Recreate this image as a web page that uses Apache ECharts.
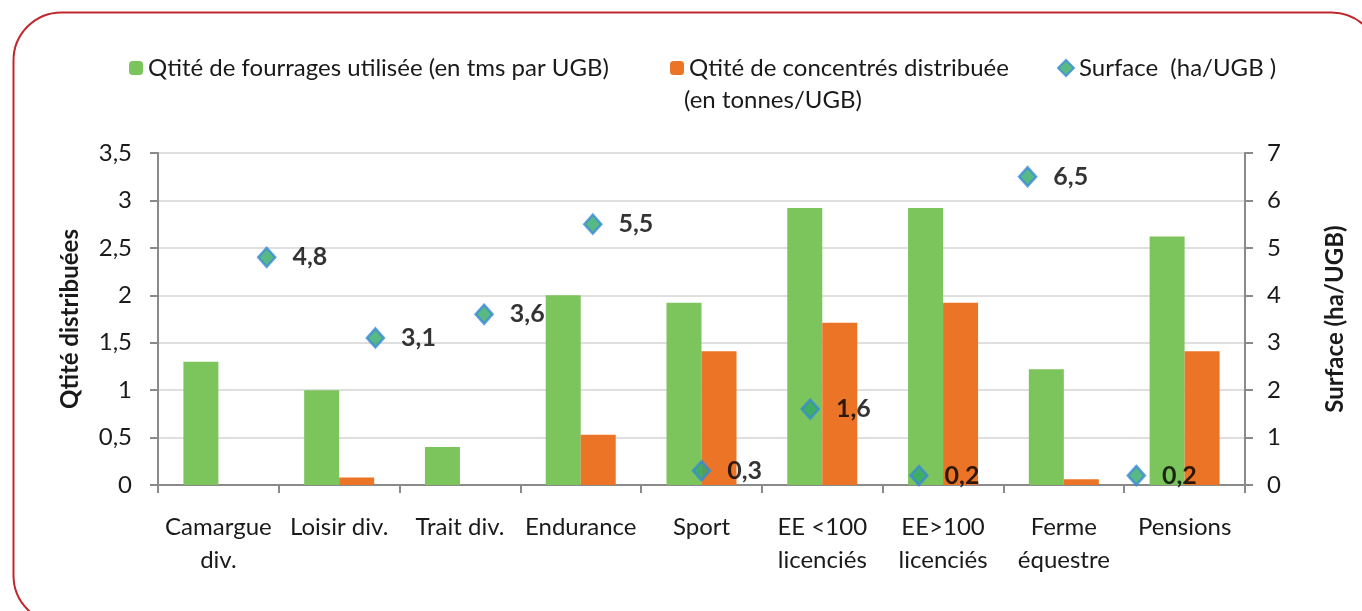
<!DOCTYPE html>
<html>
<head>
<meta charset="utf-8">
<script src="https://cdn.jsdelivr.net/npm/echarts@6/dist/echarts.min.js"></script>
<style>
html,body{margin:0;padding:0;background:#fff;}
#c{width:1362px;height:611px;}
</style>
</head>
<body>
<div id="c"></div>
<script>
const categories = ['Camargue\ndiv.', 'Loisir div.', 'Trait div.', 'Endurance', 'Sport', 'EE <100\nlicenciés', 'EE>100\nlicenciés', 'Ferme\néquestre', 'Pensions'];
const fourrages = [1.3, 1.0, 0.4, 2.0, 1.92, 2.92, 2.92, 1.22, 2.62];
const concentres = [0, 0.08, 0, 0.53, 1.41, 1.71, 1.92, 0.06, 1.41];
const surfaceX = [1, 2, 3, 4, 5, 6, 7, 8, 9];
const surface = [4.8, 3.1, 3.6, 5.5, 0.3, 1.6, 0.2, 6.5, 0.2];
const leftTicks = {min: 0, max: 3.5, interval: 0.5};
const rightTicks = {min: 0, max: 7, interval: 1};

const nameF = 'Qtité de fourrages utilisée (en tms par UGB)';
const nameC = 'Qtité de concentrés distribuée (en tonnes/UGB)';
const nameS = 'Surface  (ha/UGB )';

const FONT = 'Lato';
const FS = 24;
const comma = v => String(v).replace('.', ',');
const axisCol = '#8a8a8a';
const txtCol = '#1a1a1a';

const chart = echarts.init(document.getElementById('c'));
chart.setOption({
  backgroundColor: '#fff',
  animation: false,
  textStyle: {fontFamily: FONT},
  grid: {left: 158, right: 117, top: 153, bottom: 126},
  legend: [
    {data: [nameF], left: 124, top: 51, itemWidth: 14, itemHeight: 14,
     textStyle: {fontSize: FS, color: txtCol, fontFamily: FONT}},
    {data: [nameC], left: 665, top: 51, itemWidth: 14, itemHeight: 14,
     formatter: () => 'Qtité de concentrés distribuée',
     textStyle: {fontSize: FS, color: txtCol, fontFamily: FONT}},
    {data: [nameS], left: 1052, top: 51, itemWidth: 16, itemHeight: 16,
     textStyle: {fontSize: FS, color: txtCol, fontFamily: FONT}}
  ],
  graphic: [
    {type: 'rect', silent: true, z: -1,
     shape: {x: 13.5, y: 12.5, width: 1366, height: 611, r: 48},
     style: {fill: 'none', stroke: '#c0282e', lineWidth: 2}},
    {type: 'text', left: 684, top: 88,
     style: {text: '(en tonnes/UGB)', fontSize: FS, fill: txtCol, fontFamily: FONT}}
  ],
  xAxis: [
    {type: 'category', data: categories,
     axisLine: {show: true, lineStyle: {color: axisCol, width: 2}},
     axisTick: {show: true, length: 8, lineStyle: {color: axisCol, width: 2}},
     axisLabel: {fontSize: FS, color: txtCol, fontFamily: FONT, margin: 26, lineHeight: 33, interval: 0}},
    {type: 'value', min: 0, max: 10, show: false}
  ],
  yAxis: [
    {type: 'value', min: leftTicks.min, max: leftTicks.max, interval: leftTicks.interval,
     name: 'Qtité distribuées', nameLocation: 'middle', nameGap: 76, nameRotate: 90,
     nameTextStyle: {fontSize: FS, fontWeight: 'bold', color: txtCol, fontFamily: FONT},
     axisLine: {show: true, lineStyle: {color: axisCol, width: 2}},
     axisTick: {show: true, length: 8, lineStyle: {color: axisCol, width: 2}},
     axisLabel: {fontSize: FS, color: txtCol, fontFamily: FONT, margin: 26, formatter: comma},
     splitLine: {show: true, lineStyle: {color: '#d4d4d4', width: 1.5}}},
    {type: 'value', min: rightTicks.min, max: rightTicks.max, interval: rightTicks.interval,
     position: 'right',
     name: 'Surface (ha/UGB)', nameLocation: 'middle', nameGap: 78, nameRotate: 90,
     nameTextStyle: {fontSize: FS, fontWeight: 'bold', color: txtCol, fontFamily: FONT},
     axisLine: {show: true, lineStyle: {color: axisCol, width: 2}},
     axisTick: {show: true, length: 8, lineStyle: {color: axisCol, width: 2}},
     axisLabel: {fontSize: FS, color: txtCol, fontFamily: FONT, margin: 22, formatter: comma},
     splitLine: {show: false}}
  ],
  series: [
    {name: nameF, type: 'bar', data: fourrages, barWidth: 35, barGap: '0%',
     itemStyle: {color: '#7cc45c'}},
    {name: nameC, type: 'bar', data: concentres, barWidth: 35, barGap: '0%',
     itemStyle: {color: '#ec7426'}},
    {name: nameS, type: 'scatter', xAxisIndex: 1, yAxisIndex: 1,
     data: surfaceX.map((x, i) => [x, surface[i]]),
     symbol: 'diamond', symbolSize: [17, 19],
     itemStyle: {color: '#2fa866', borderColor: '#3a8bd8', borderWidth: 2.5},
     label: {show: true, position: 'right', distance: 16, fontSize: 25, fontWeight: 'bold',
             color: '#000', fontFamily: FONT, formatter: p => comma(p.value[1])},
     z: 5}
  ]
});
</script>
</body>
</html>
